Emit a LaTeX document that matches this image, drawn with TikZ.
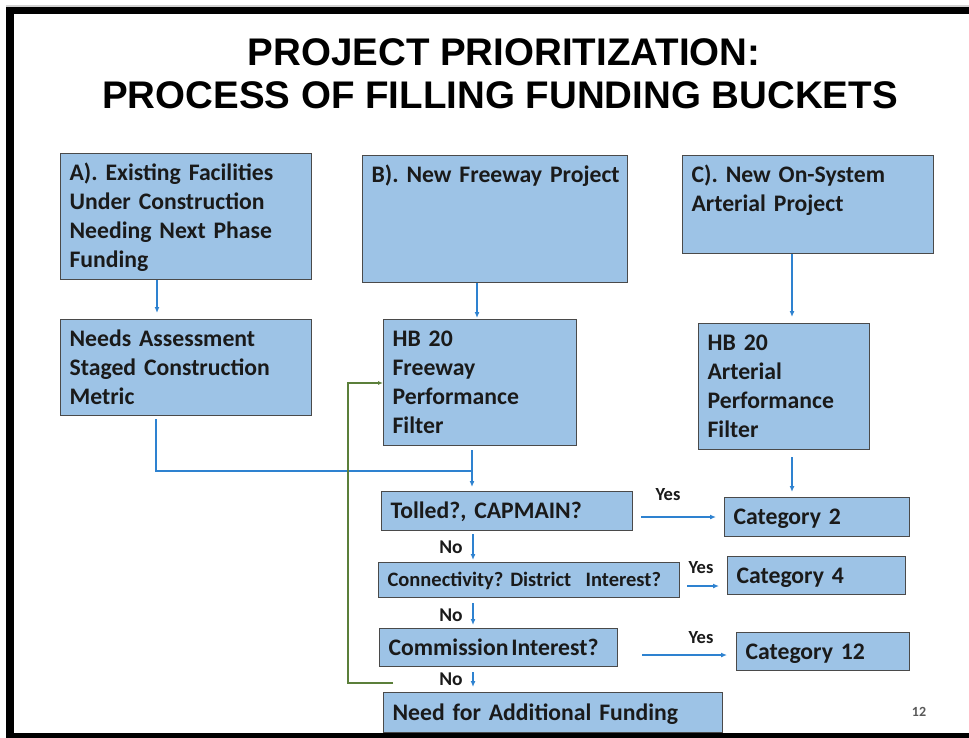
\documentclass[tikz,border=0pt]{standalone}
\usepackage{fontspec}
\newfontfamily\carlito[WordSpace=0.8]{Carlito}
\newfontfamily\arialf{Liberation Sans}
\usetikzlibrary{arrows.meta}
\definecolor{boxfill}{HTML}{9DC3E6}
\definecolor{boxline}{HTML}{4A4A4A}
\definecolor{arrblue}{HTML}{2E82D0}
\definecolor{loopgreen}{HTML}{5B7F3A}
\definecolor{txt}{HTML}{1A1A1A}
\newcommand{\boxfont}{\carlito\bfseries\fontsize{23.7}{29}\selectfont\frenchspacing}
\newcommand{\smallboxfont}{\carlito\bfseries\fontsize{20.5}{25}\selectfont\frenchspacing}
\newcommand{\topstrut}{\rule{0pt}{0.77\baselineskip}}
\newcommand{\botstrut}{\rule[-0.23\baselineskip]{0pt}{0.23\baselineskip}}
\begin{document}
\begin{tikzpicture}[x=1pt,y=-1pt,
  box/.style={draw=boxline, line width=1.2pt, fill=boxfill, text=txt,
    inner xsep=9pt, inner ysep=0pt, align=left, anchor=north west,
    font=\boxfont, execute at begin node=\topstrut, execute at end node=\botstrut},
  arr/.style={draw=arrblue, line width=1.6pt, -{Latex[length=6pt,width=5pt]}},
  bline/.style={draw=arrblue, line width=1.6pt},
  garr/.style={draw=loopgreen, line width=1.4pt, -{Latex[length=5pt,width=4pt]}},
  lbl/.style={font=\carlito\bfseries\fontsize{18.5}{20}\selectfont, text=txt, inner sep=0pt}]
\useasboundingbox (0,0) rectangle (969,738);
\fill[white] (0,0) rectangle (969,738);
\fill[gray!35] (6,5.5) rectangle (969,7);
\fill[black] (6,7) rectangle (969,14.5);
\fill[black] (6,7) rectangle (14,738);
\fill[black] (6,733) rectangle (969,738);

% title
\node[font=\arialf\bfseries\fontsize{38.5}{42}\selectfont, inner sep=0pt] (t1) at (504,52.5) {PROJECT PRIORITIZATION:};
\node[font=\arialf\bfseries\fontsize{38.5}{42}\selectfont, inner sep=0pt] (t2) at (500,95) {PROCESS OF FILLING FUNDING BUCKETS};

% boxes
\node[box, text width=233pt, minimum height=126pt] (A) at (60,153) {\mbox{A). Existing Facilities}\\\mbox{Under Construction}\\\mbox{Needing Next Phase}\\Funding};
\node[box, text width=233pt, minimum height=96pt] (NA) at (60,319) {\mbox{Needs Assessment}\\\mbox{Staged Construction}\\Metric};
\node[box, text width=247pt, minimum height=127pt] (B) at (362,155) {\mbox{B). New Freeway Project}\\\strut\\\strut\\\strut};
\node[box, text width=175pt, minimum height=126pt] (HF) at (383,319) {HB 20\\Freeway\\Performance\\Filter};
\node[box, text width=233pt, minimum height=98pt] (C) at (682,155) {\mbox{C). New On-System}\\\mbox{Arterial Project}\\\strut};
\node[box, text width=153pt, minimum height=126pt] (HA) at (698,323) {HB 20\\Arterial\\Performance\\Filter};
\node[box, text width=233pt, minimum height=39pt] (T) at (381,491) {\mbox{Tolled?, CAPMAIN?}};
\node[box, text width=167pt, minimum height=39pt] (C2) at (724,497) {Category 2};
\node[box, font=\smallboxfont, text width=283pt, minimum height=35pt] (CO) at (378,562) {\mbox{Connectivity? District\hspace{0.7em}Interest?}};
\node[box, text width=160pt, minimum height=38pt] (C4) at (727,556) {Category 4};
\node[box, text width=220pt, minimum height=38pt] (CM) at (379,628) {\mbox{Commission\hspace{0.12em}Interest?}};
\node[box, text width=155pt, minimum height=38pt] (C12) at (736,632) {Category 12};
\node[box, text width=321pt, minimum height=40pt] (N) at (383,692) {\mbox{Need for Additional Funding}};

% labels
\node[lbl] (y1) at (668,495) {Yes};
\node[lbl] (y2) at (701,568) {Yes};
\node[lbl] (y3) at (701,638) {Yes};
\node[lbl, font=\carlito\bfseries\fontsize{19.5}{21}\selectfont] (n1) at (451,547) {No};
\node[lbl, font=\carlito\bfseries\fontsize{19.5}{21}\selectfont] (n2) at (451,615) {No};
\node[lbl, font=\carlito\bfseries\fontsize{19.5}{21}\selectfont] (n3) at (451,679) {No};
\node[font=\carlito\bfseries\fontsize{14}{16}\selectfont, text=black!65, inner sep=0pt] (pg) at (919,712) {12};

% helper coordinates
\coordinate (xa) at (157,0);
\coordinate (xn) at (156,0);
\coordinate (xb) at (477,0);
\coordinate (J) at (472,471);
\coordinate (xc) at (792,0);
\coordinate (xd) at (473,0);
\coordinate (ya) at (0,517);
\coordinate (yb) at (0,586);
\coordinate (yc) at (0,655);
\coordinate (g0) at (393,683);
\coordinate (g1) at (348,683);
\coordinate (g2) at (348,383);

% connectors
\draw[arr, shorten >=6pt] (xa |- A.south) -- (xa |- NA.north);
\draw[arr, shorten >=1pt] (xb |- B.south) -- (xb |- HF.north);
\draw[arr, shorten >=6pt] (xc |- C.south) -- (xc |- HA.north);
\draw[arr, shorten <=7pt, shorten >=5pt] (xc |- HA.south) -- (xc |- C2.north);
\draw[bline, shorten <=3pt] (xn |- NA.south) |- (J);
\draw[arr, shorten <=4pt, shorten >=4pt] (J |- HF.south) -- (J |- T.north);
\draw[arr, shorten <=3pt, shorten >=2pt] (xd |- T.south) -- (xd |- CO.north);
\draw[arr, shorten <=5pt, shorten >=3pt] (xd |- CO.south) -- (xd |- CM.north);
\draw[arr, shorten <=5pt, shorten >=5pt] (xd |- CM.south) -- (xd |- N.north);
\draw[arr, shorten <=8pt, shorten >=8pt] (ya -| T.east) -- (ya -| C2.west);
\draw[arr, shorten <=7pt, shorten >=8pt] (yb -| CO.east) -- (yb -| C4.west);
\draw[arr, shorten <=24pt, shorten >=9pt] (yc -| CM.east) -- (yc -| C12.west);
\draw[garr] (g0) -- (g1) -- (g2) -- (g2 -| HF.west);
\end{tikzpicture}
\end{document}
